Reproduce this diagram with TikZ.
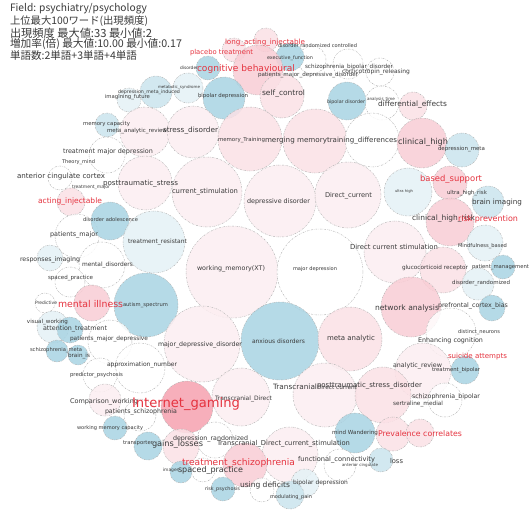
\documentclass[tikz,border=0pt]{standalone}
\usepackage{fontspec}
\usepackage{graphicx}
\setmainfont{DejaVu Sans}
\newfontfamily\jpfont{Noto Sans CJK JP}

% bubble fills
\definecolor{wh}{HTML}{FFFFFF}
\definecolor{pa}{HTML}{FCEEF1}
\definecolor{pb}{HTML}{FBE1E6}
\definecolor{pc}{HTML}{F9CDD5}
\definecolor{pd}{HTML}{F6A2B0}
\definecolor{ba}{HTML}{E4F2F6}
\definecolor{bb}{HTML}{CBE5EE}
\definecolor{bc}{HTML}{A9D4E3}
% label colours
\definecolor{ink}{HTML}{3A3A3A}
\definecolor{hot}{HTML}{E5333F}

\tikzset{
  bubble/.style={circle, draw=gray!60, line width=0.45pt,
    dash pattern=on 1.6pt off 1.2pt on 0.4pt off 1.2pt,
    fill opacity=0.85, inner sep=0pt, outer sep=0pt},
  word/.style={anchor=west, inner sep=0pt, outer sep=0pt},
  head/.style={anchor=west, inner sep=0pt, outer sep=0pt, text=ink},
}

% \putbub{name}{x}{y}{radius}{fill}
\newcommand\putbub[5]{\node[bubble, fill=#5, minimum size={2*#4pt}] (#1) at (#2,#3) {};}
% \putword{name}{x}{y}{width}{colour}{text}
\newcommand\putword[6]{\node[word, text=#5] (#1) at (#2,#3) {\resizebox{#4pt}{!}{#6}};}

\begin{document}
\begin{tikzpicture}[x=1pt, y=-1pt]
\fill[white] (0,0) rectangle (529,509);
\useasboundingbox (0,0) rectangle (529,509);

% ---------------- bubbles ----------------
\putbub{c1}{266}{40}{12}{pb}
\putbub{c5}{234}{50}{12}{pb}
\putbub{c6}{312}{60}{14}{wh}
\putbub{c7}{348}{64}{15}{wh}
\putbub{c8}{380}{72}{14}{wh}
\putbub{c2}{290}{57}{14}{bc}
\putbub{c4}{208}{68}{12}{bc}
\putbub{c3}{258}{70}{25}{pc}
\putbub{c9}{282}{96}{22}{pb}
\putbub{c13}{129}{100}{12}{ba}
\putbub{c12}{156}{92}{16}{bb}
\putbub{c11}{188}{88}{15}{ba}
\putbub{c10}{224}{98}{21}{bc}
\putbub{c15}{382}{103}{17}{wh}
\putbub{c16}{413}{106}{14}{pb}
\putbub{c14}{347}{101}{19}{bc}
\putbub{c17}{107}{125}{12}{bb}
\putbub{c18}{145}{132}{25}{pa}
\putbub{c19}{193}{132}{26}{pa}
\putbub{c20}{250}{139}{32}{pb}
\putbub{c21}{315}{141}{32}{pb}
\putbub{c22}{372}{140}{27}{wh}
\putbub{c23}{422}{143}{25}{pc}
\putbub{c24}{462}{150}{17}{bb}
\putbub{c25}{107}{155}{18}{wh}
\putbub{c26}{60}{178}{12}{wh}
\putbub{c27}{145}{183}{27}{pa}
\putbub{c28}{207}{192}{35}{pa}
\putbub{c29}{280}{201}{36}{pa}
\putbub{c30}{348}{195}{33}{pa}
\putbub{c31}{408}{192}{24}{ba}
\putbub{c32}{450}{183}{17}{pc}
\putbub{c33}{488}{202}{16}{bb}
\putbub{c34}{71}{202}{14}{pb}
\putbub{c36}{77}{236}{22}{wh}
\putbub{c35}{110}{221}{19}{bc}
\putbub{c37}{154}{242}{31}{ba}
\putbub{c38}{50}{258}{13}{ba}
\putbub{c39}{102}{265}{23}{wh}
\putbub{c40}{232}{272}{46}{pa}
\putbub{c41}{320}{272}{43}{wh}
\putbub{c42}{395}{252}{31}{pa}
\putbub{c43}{450}{222}{24}{pc}
\putbub{c44}{485}{243}{18}{ba}
\putbub{c45}{443}{270}{23}{pb}
\putbub{c47}{478}{284}{16}{ba}
\putbub{c46}{503}{267}{12}{bc}
\putbub{c48}{70}{282}{15}{wh}
\putbub{c51}{45}{303}{10}{wh}
\putbub{c49}{92}{303}{18}{pc}
\putbub{c50}{146}{305}{32}{bc}
\putbub{c52}{53}{327}{16}{ba}
\putbub{c53}{70}{330}{13}{bc}
\putbub{c56}{110}{342}{22}{wh}
\putbub{c54}{57}{351}{11}{bc}
\putbub{c55}{78}{355}{10}{bc}
\putbub{c57}{202}{344}{38}{pa}
\putbub{c58}{280}{341}{39}{bc}
\putbub{c59}{350}{339}{32}{pb}
\putbub{c60}{411}{307}{30}{pc}
\putbub{c61}{492}{308}{13}{bc}
\putbub{c62}{451}{333}{25}{wh}
\putbub{c63}{423}{371}{28}{pa}
\putbub{c64}{465}{370}{14}{bc}
\putbub{c65}{140}{368}{25}{wh}
\putbub{c66}{100}{375}{17}{wh}
\putbub{c72}{105}{400}{16}{pa}
\putbub{c73}{140}{415}{16}{wh}
\putbub{c68}{241}{397}{29}{pa}
\putbub{c69}{325}{395}{32}{pa}
\putbub{c70}{383}{395}{28}{pb}
\putbub{c71}{445}{400}{17}{wh}
\putbub{c67}{187}{407}{26}{pd}
\putbub{c74}{115}{428}{12}{bc}
\putbub{c77}{215}{440}{18}{wh}
\putbub{c76}{181}{447}{18}{pb}
\putbub{c75}{148}{446}{14}{bc}
\putbub{c82}{290}{455}{28}{pa}
\putbub{c81}{203}{470}{12}{wh}
\putbub{c78}{245}{465}{22}{pc}
\putbub{c79}{181}{472}{11}{bc}
\putbub{c80}{223}{489}{12}{bc}
\putbub{c84}{393}{434}{17}{pb}
\putbub{c85}{420}{433}{14}{pb}
\putbub{c83}{355}{433}{20}{bc}
\putbub{c87}{340}{465}{16}{wh}
\putbub{c86}{381}{460}{12}{bb}
\putbub{c90}{262}{490}{12}{wh}
\putbub{c88}{305}{483}{14}{ba}
\putbub{c89}{290}{495}{14}{bb}

% ---------------- header ----------------
\node[head] (h1) at (10,9)  {\resizebox{137pt}{!}{\jpfont Field: psychiatry/psychology}};
\node[head] (h2) at (10,21) {\resizebox{138pt}{!}{\jpfont 上位最大100ワード(出現頻度)}};
\node[head] (h3) at (10,33) {\resizebox{142pt}{!}{\jpfont 出現頻度 最大値:33 最小値:2}};
\node[head] (h4) at (10,44) {\resizebox{172pt}{!}{\jpfont 増加率(倍) 最大値:10.00 最小値:0.17}};
\node[head] (h5) at (10,56) {\resizebox{127pt}{!}{\jpfont 単語数:2単語+3単語+4単語}};

% ---------------- words ----------------
\putword{w1}{225}{43}{80}{hot}{long\_acting\_injectable}
\putword{w2}{190}{53}{63}{hot}{placebo treatment}
\putword{w3}{278}{46}{79}{ink}{disorder randomized controlled}
\putword{w4}{267}{58}{46}{ink}{executive\_function}
\putword{w5}{180}{68}{18}{ink}{disorder}
\putword{w6}{197}{69}{98}{hot}{cognitive behavioural}
\putword{w7}{305}{67}{88}{ink}{schizophrenia\_bipolar\_disorder}
\putword{w8}{342}{72}{68}{ink}{corticotropin\_releasing}
\putword{w9}{258}{75}{100}{ink}{patients\_major\_depressive\_disorder}
\putword{w10}{158}{87}{42}{ink}{metabolic\_syndrome}
\putword{w11}{118}{92}{62}{ink}{depression\_meta\_induced}
\putword{w12}{105}{97}{45}{ink}{imagining\_future}
\putword{w13}{198}{96}{50}{ink}{bipolar depression}
\putword{w14}{262}{94}{43}{ink}{self\_control}
\putword{w15}{327}{102}{38}{ink}{bipolar disorder}
\putword{w16}{367}{99}{28}{ink}{analysis\_time}
\putword{w17}{378}{105}{69}{ink}{differential\_effects}
\putword{w18}{83}{124}{47}{ink}{memory capacity}
\putword{w19}{107}{131}{60}{ink}{meta\_analytic\_review}
\putword{w20}{163}{131}{55}{ink}{stress\_disorder}
\putword{w21}{218}{140}{47}{ink}{memory\_Training}
\putword{w22}{265}{141}{62}{ink}{merging memory}
\putword{w23}{327}{141}{70}{ink}{training\_differences}
\putword{w24}{398}{142}{50}{ink}{clinical\_high}
\putword{w25}{438}{149}{47}{ink}{depression\_meta}
\putword{w26}{63}{152}{90}{ink}{treatment major depression}
\putword{w27}{62}{162}{33}{ink}{Theory\_mind}
\putword{w28}{17}{177}{88}{ink}{anterior cingulate cortex}
\putword{w29}{103}{184}{75}{ink}{posttraumatic\_stress}
\putword{w30}{72}{187}{38}{ink}{treatment\_major}
\putword{w31}{172}{192}{66}{ink}{current\_stimulation}
\putword{w32}{420}{179}{62}{hot}{based\_support}
\putword{w33}{247}{202}{63}{ink}{depressive disorder}
\putword{w34}{325}{196}{47}{ink}{Direct\_current}
\putword{w35}{395}{191}{18}{ink}{ultra high}
\putword{w36}{447}{193}{40}{ink}{ultra\_high\_risk}
\putword{w37}{472}{203}{50}{ink}{brain imaging}
\putword{w38}{38}{202}{64}{hot}{acting\_injectable}
\putword{w39}{83}{220}{55}{ink}{disorder adolescence}
\putword{w40}{412}{219}{63}{ink}{clinical\_high\_risk}
\putword{w41}{458}{219}{60}{hot}{risk prevention}
\putword{w42}{50}{235}{48}{ink}{patients\_major}
\putword{w43}{128}{242}{59}{ink}{treatment\_resistant}
\putword{w44}{458}{246}{49}{ink}{Mindfulness\_based}
\putword{w45}{350}{247}{88}{ink}{Direct current stimulation}
\putword{w46}{20}{260}{60}{ink}{responses\_imaging}
\putword{w47}{82}{265}{51}{ink}{mental\_disorders}
\putword{w48}{402}{268}{66}{ink}{glucocorticoid receptor}
\putword{w49}{472}{267}{57}{ink}{patient\_management}
\putword{w50}{197}{269}{68}{ink}{working\_memory(XT)}
\putword{w51}{293}{269}{44}{ink}{major depression}
\putword{w52}{48}{278}{45}{ink}{spaced\_practice}
\putword{w53}{452}{283}{58}{ink}{disorder\_randomized}
\putword{w54}{35}{303}{22}{ink}{Predictive}
\putword{w55}{58}{304}{65}{hot}{mental illness}
\putword{w56}{123}{305}{45}{ink}{autism\_spectrum}
\putword{w57}{375}{308}{64}{ink}{network analysis}
\putword{w58}{438}{306}{70}{ink}{prefrontal\_cortex\_bias}
\putword{w59}{27}{322}{41}{ink}{visual\_working}
\putword{w60}{43}{329}{64}{ink}{attention\_treatment}
\putword{w61}{458}{332}{42}{ink}{distinct\_neurons}
\putword{w62}{70}{339}{78}{ink}{patients\_major\_depressive}
\putword{w63}{327}{339}{48}{ink}{meta analytic}
\putword{w64}{252}{341}{53}{ink}{anxious disorders}
\putword{w65}{418}{341}{65}{ink}{Enhancing cognition}
\putword{w66}{158}{345}{84}{ink}{major\_depressive\_disorder}
\putword{w67}{30}{350}{52}{ink}{schizophrenia\_meta}
\putword{w68}{68}{356}{22}{ink}{brain\_is}
\putword{w69}{448}{357}{59}{hot}{suicide attempts}
\putword{w70}{107}{365}{70}{ink}{approximation\_number}
\putword{w71}{393}{366}{49}{ink}{analytic\_review}
\putword{w72}{432}{370}{48}{ink}{treatment\_bipolar}
\putword{w73}{70}{375}{53}{ink}{predictor\_psychosis}
\putword{w74}{273}{387}{44}{ink}{Transcranial}
\putword{w75}{317}{387}{40}{ink}{Direct current}
\putword{w76}{317}{386}{105}{ink}{posttraumatic\_stress\_disorder}
\putword{w77}{412}{397}{68}{ink}{schizophrenia\_bipolar}
\putword{w78}{215}{399}{57}{ink}{Transcranial\_Direct}
\putword{w79}{70}{402}{68}{ink}{Comparison\_working}
\putword{w80}{132}{404}{108}{hot}{Internet\_gaming}
\putword{w81}{393}{404}{50}{ink}{sertraline\_medial}
\putword{w82}{105}{412}{72}{ink}{patients\_schizophrenia}
\putword{w83}{77}{428}{66}{ink}{working memory capacity}
\putword{w84}{332}{433}{46}{ink}{mind Wandering}
\putword{w85}{378}{434}{84}{hot}{Prevalence correlates}
\putword{w86}{173}{439}{75}{ink}{depression\_randomized}
\putword{w87}{123}{443}{30}{ink}{transporter}
\putword{w88}{152}{444}{51}{ink}{gains\_losses}
\putword{w89}{217}{444}{133}{ink}{Transcranial\_Direct\_current\_stimulation}
\putword{w90}{298}{460}{77}{ink}{functional\_connectivity}
\putword{w91}{342}{465}{36}{ink}{anterior cingulate}
\putword{w92}{390}{461}{13}{ink}{loss}
\putword{w93}{182}{463}{113}{hot}{treatment\_schizophrenia}
\putword{w94}{163}{470}{16}{ink}{images}
\putword{w95}{178}{470}{65}{ink}{spaced\_practice}
\putword{w96}{293}{483}{55}{ink}{bipolar depression}
\putword{w97}{240}{485}{50}{ink}{using deficits}
\putword{w98}{205}{489}{35}{ink}{risk\_psychosis}
\putword{w99}{270}{497}{42}{ink}{modulating\_pain}
\end{tikzpicture}
\end{document}
